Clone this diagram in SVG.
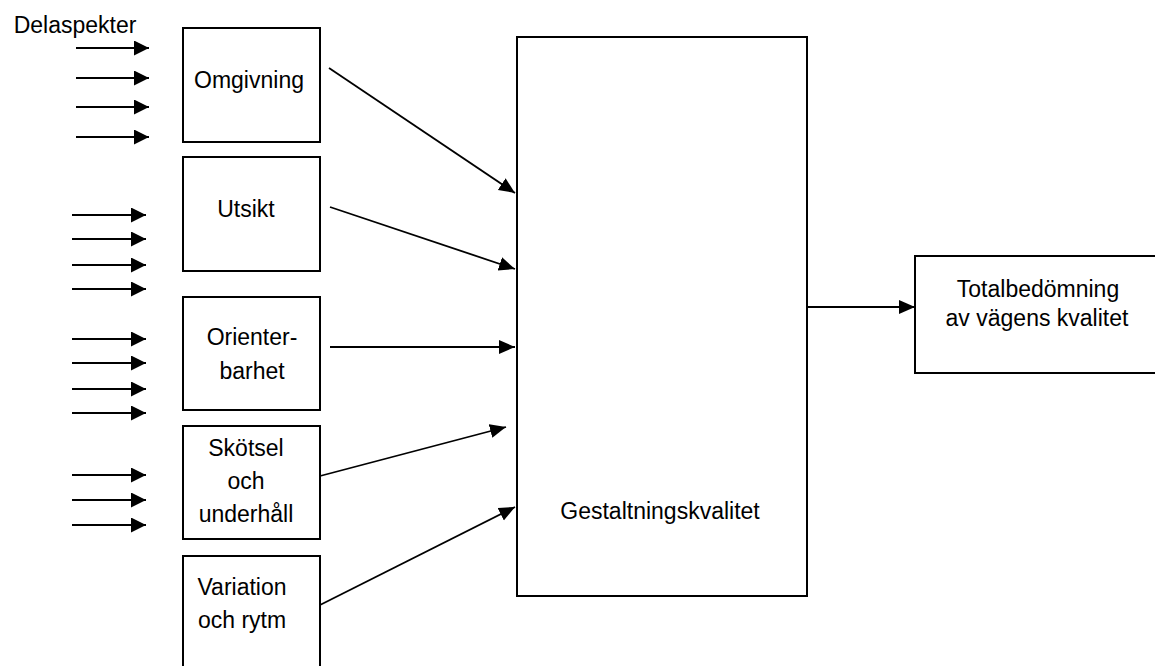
<svg xmlns="http://www.w3.org/2000/svg" width="1155" height="666" viewBox="0 0 1155 666">
<style>
.box{fill:#fff;stroke:#000;stroke-width:2}
.t{font-family:"Liberation Sans",Arial,sans-serif;font-size:23px;fill:#000;text-anchor:middle}
.in{stroke:#000;stroke-width:2.2;fill:none;marker-end:url(#ah)}
.c{stroke:#000;stroke-width:1.8;fill:none;marker-end:url(#ah2)}
</style>
<defs>
<marker id="ah" markerUnits="userSpaceOnUse" markerWidth="16" markerHeight="16" refX="15" refY="7.5" orient="auto">
<path d="M0,0 L15,7.5 L0,15 z" fill="#000"/>
</marker>
<marker id="ah2" markerUnits="userSpaceOnUse" markerWidth="18" markerHeight="16" refX="16" refY="7" orient="auto">
<path d="M0,0 L16,7 L0,14 z" fill="#000"/>
</marker>
</defs>
<rect width="1155" height="666" fill="#fff"/>
<text class="t" x="75" y="33">Delaspekter</text>
<g id="omgivning"><rect class="box" x="183" y="28" width="137" height="114"/><text class="t" x="249" y="88">Omgivning</text></g>
<g id="utsikt"><rect class="box" x="183" y="157" width="137" height="114"/><text class="t" x="246" y="217">Utsikt</text></g>
<g id="orienterbarhet"><rect class="box" x="183" y="297" width="137" height="113"/><text class="t" x="252" y="345">Orienter-</text><text class="t" x="252" y="379">barhet</text></g>
<g id="skotsel"><rect class="box" x="183" y="426" width="137" height="113"/><text class="t" x="246" y="456">Skötsel</text><text class="t" x="246" y="489">och</text><text class="t" x="246" y="522">underhåll</text></g>
<g id="variation"><rect class="box" x="183" y="556" width="137" height="120"/><text class="t" x="242" y="595">Variation</text><text class="t" x="242" y="628">och rytm</text></g>
<g id="gestaltning"><rect class="box" x="517" y="37" width="290" height="559"/><text class="t" x="660" y="519">Gestaltningskvalitet</text></g>
<g id="total"><rect class="box" x="915" y="256" width="250" height="117"/><text class="t" x="1038" y="297">Totalbedömning</text><text class="t" x="1037" y="326">av vägens kvalitet</text></g>
<g id="connectors">
<line class="in" x1="76" y1="48" x2="149" y2="48"/>
<line class="in" x1="76" y1="78" x2="149" y2="78"/>
<line class="in" x1="76" y1="107" x2="149" y2="107"/>
<line class="in" x1="76" y1="137" x2="149" y2="137"/>
<line class="in" x1="72" y1="215" x2="146" y2="215"/>
<line class="in" x1="72" y1="239" x2="146" y2="239"/>
<line class="in" x1="72" y1="265" x2="146" y2="265"/>
<line class="in" x1="72" y1="289" x2="146" y2="289"/>
<line class="in" x1="72" y1="339" x2="146" y2="339"/>
<line class="in" x1="72" y1="363" x2="146" y2="363"/>
<line class="in" x1="72" y1="389" x2="146" y2="389"/>
<line class="in" x1="72" y1="413" x2="146" y2="413"/>
<line class="in" x1="72" y1="475" x2="146" y2="475"/>
<line class="in" x1="72" y1="500" x2="146" y2="500"/>
<line class="in" x1="72" y1="525" x2="146" y2="525"/>
<line class="c" x1="329" y1="68" x2="515" y2="193"/>
<line class="c" x1="330" y1="207" x2="515" y2="269"/>
<line class="c" x1="330" y1="347" x2="515" y2="347"/>
<line class="c" x1="320" y1="476" x2="506" y2="427"/>
<line class="c" x1="320" y1="605" x2="515" y2="507"/>
<line class="c" x1="807" y1="307" x2="915" y2="307"/>
</g>
</svg>
